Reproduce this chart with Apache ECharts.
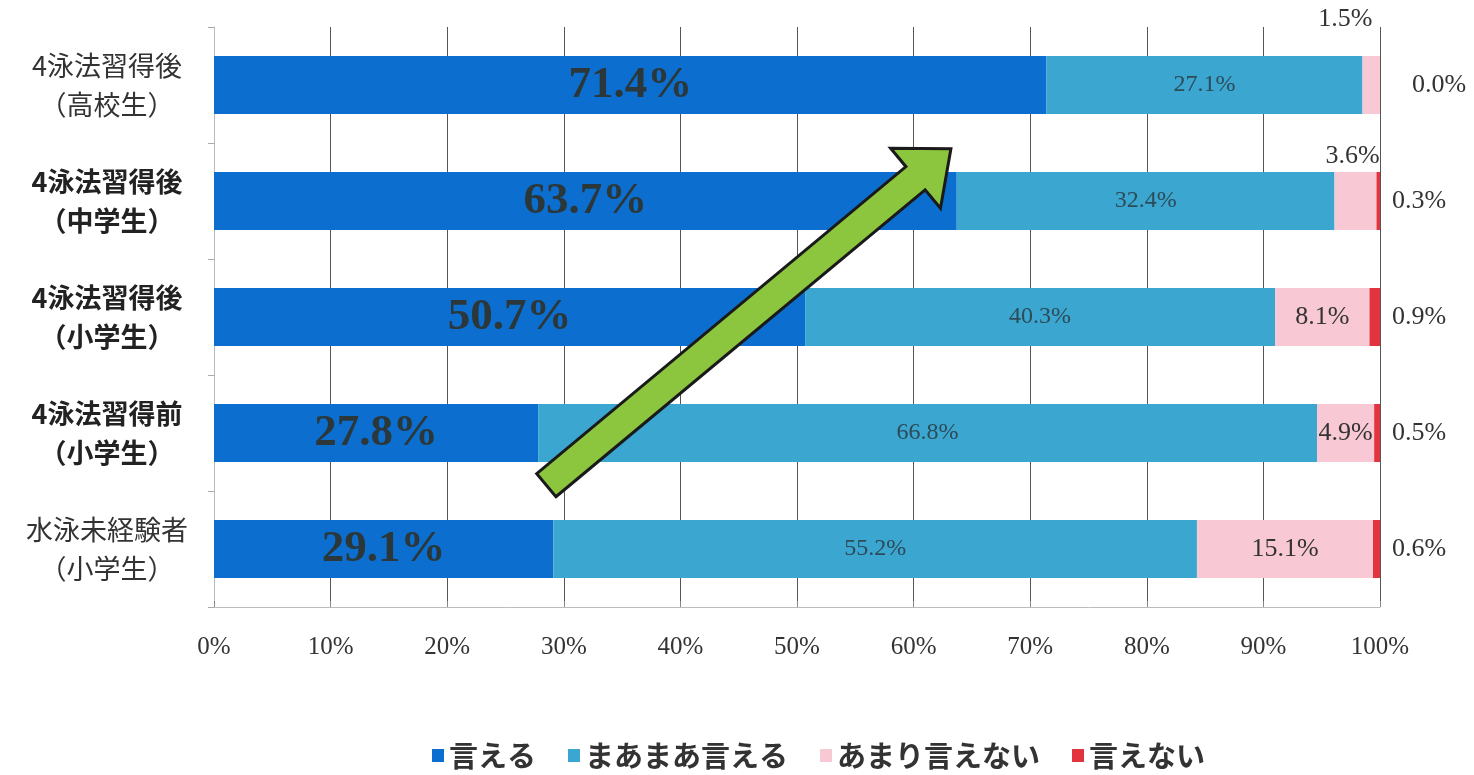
<!DOCTYPE html>
<html><head><meta charset="utf-8">
<script src="https://cdn.jsdelivr.net/npm/echarts@6/dist/echarts.min.js"></script>
<style>html,body{margin:0;padding:0;background:#fff}#c{width:1474px;height:775px}</style>
</head><body><div id="c"></div>
<script>
const categories = ['4泳法習得後\n（高校生）','4泳法習得後\n（中学生）','4泳法習得後\n（小学生）','4泳法習得前\n（小学生）','水泳未経験者\n（小学生）'];
const boldRows = [false, true, true, true, false];
const seriesNames = ['言える','まあまあ言える','あまり言えない','言えない'];
const ieru = [71.4, 63.7, 50.7, 27.8, 29.1];
const maamaa = [27.1, 32.4, 40.3, 66.8, 55.2];
const amari = [1.5, 3.6, 8.1, 4.9, 15.1];
const ienai = [0.0, 0.3, 0.9, 0.5, 0.6];
const xTicks = [0,10,20,30,40,50,60,70,80,90,100];

const colors = ['#0c6fcf','#3ba6cf','#f8c8d4','#e1343f'];
const serif = '"Liberation Serif","DejaVu Serif",serif';
const cjk = '"Noto Sans CJK JP","Noto Sans CJK SC",sans-serif';
const fmt = p => p.value.toFixed(1) + '%';

const chart = echarts.init(document.getElementById('c'));
const amariData = amari.map((v,i) => {
  const d = {value: v};
  if (i === 0) d.label = {show:true, position:'top', offset:[-26,-19]};
  if (i === 1) d.label = {show:true, position:'top', offset:[-3,2]};
  return d;
});
const ienaiData = ienai.map((v,i) => i === 0 ? {value:v, label:{distance:32}} : {value:v});

chart.setOption({
  animation:false,
  color: colors,
  grid: {left:214, right:94, top:27, bottom:168, containLabel:false},
  xAxis: {
    type:'value', min:0, max:100, interval:10,
    axisLine:{show:true, lineStyle:{color:'#bbb'}},
    axisTick:{show:true, length:6, inside:true, lineStyle:{color:'#888'}},
    splitLine:{show:true, lineStyle:{color:'#555', width:1}},
    axisLabel:{formatter: v => xTicks.includes(v) ? v + '%' : '', fontFamily:serif, fontSize:25, color:'#333', margin:28}
  },
  yAxis: {
    type:'category', data:categories, inverse:true,
    axisLine:{show:true, lineStyle:{color:'#bbb'}},
    axisTick:{show:true, length:6, lineStyle:{color:'#aaa'}},
    axisLabel:{
      margin:107, align:'center', lineHeight:39,
      formatter:(v,i) => v.split('\n').map(s => (boldRows[i] ? '{b|' : '{n|') + s + '}').join('\n'),
      rich:{
        b:{fontFamily:cjk, fontSize:27, fontWeight:'bold', color:'#222', lineHeight:39, align:'center'},
        n:{fontFamily:cjk, fontSize:27, color:'#333', lineHeight:39, align:'center'}
      }
    }
  },
  legend: {
    bottom:0, left:427, itemWidth:12, itemHeight:13, itemGap:32, icon:'rect',
    textStyle:{fontFamily:cjk, fontSize:29, color:'#333', fontWeight:'bold'},
    data: seriesNames
  },
  series: [
    {name:seriesNames[0], type:'bar', stack:'t', barWidth:'50%', data:ieru,
     label:{show:true, position:'inside', formatter:fmt, fontFamily:serif, fontSize:45, fontWeight:'bold', color:'#2b3738'}},
    {name:seriesNames[1], type:'bar', stack:'t', data:maamaa,
     label:{show:true, position:'inside', formatter:fmt, fontFamily:serif, fontSize:24, color:'#2d4b58'}},
    {name:seriesNames[2], type:'bar', stack:'t', data:amariData,
     label:{show:true, position:'inside', formatter:fmt, fontFamily:serif, fontSize:26, color:'#333'}},
    {name:seriesNames[3], type:'bar', stack:'t', data:ienaiData,
     label:{show:true, position:'right', distance:12, formatter:fmt, fontFamily:serif, fontSize:26, color:'#333'}}
  ]
});

// Green arrow annotation, anchored to axis coordinates
function arrow(){
  const c0 = chart.convertToPixel({gridIndex:0}, [28.5, 0]);
  const c1 = chart.convertToPixel({gridIndex:0}, [28.5, 1]);
  const step = c1[1] - c0[1];
  const xp = v => chart.convertToPixel({gridIndex:0}, [v, 0])[0];
  const T = [xp(28.5), c0[1] + 3.45*step];
  const H = [xp(63.2), c0[1] + 0.55*step];
  const dx = H[0]-T[0], dy = H[1]-T[1], len = Math.hypot(dx,dy);
  const d = [dx/len, dy/len], n = [-d[1], d[0]];
  const w = 15, hw = 39, L = 46;
  const B = [H[0]-d[0]*L, H[1]-d[1]*L];
  const p = (P,k) => [P[0]+n[0]*k, P[1]+n[1]*k];
  const pts = [p(T,w), p(B,w), p(B,hw), H, p(B,-hw), p(B,-w), p(T,-w)];
  chart.setOption({graphic:[{type:'polygon', shape:{points:pts}, z:100,
    style:{fill:'#8cc63e', stroke:'#1a1a1a', lineWidth:3, lineJoin:'miter'}}]});
}
arrow();
</script></body></html>
